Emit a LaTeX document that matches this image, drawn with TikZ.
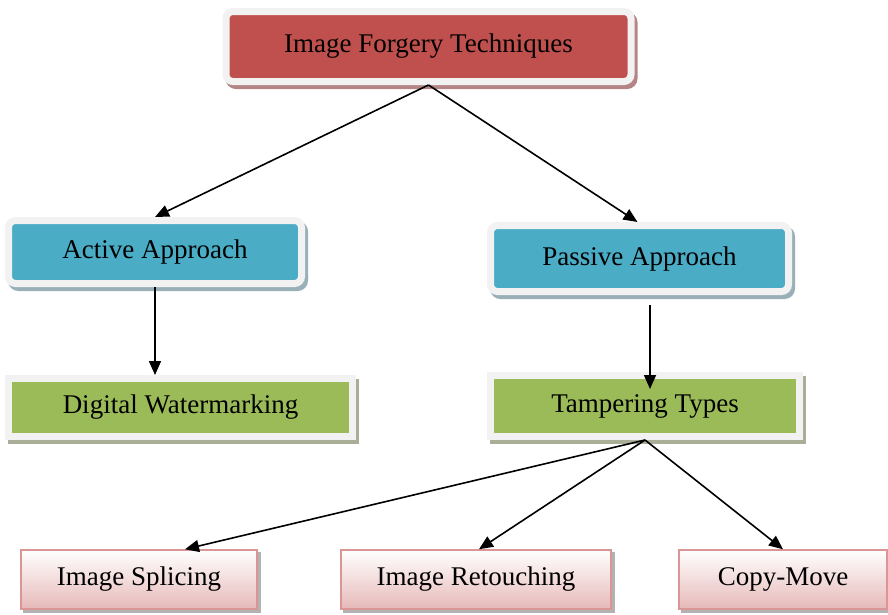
\documentclass[tikz,border=0pt]{standalone}
\usepackage{fontspec}
\setmainfont{Liberation Serif}
\usetikzlibrary{arrows.meta, positioning}
\definecolor{TopRed}{HTML}{C0504D}
\definecolor{RedShade}{HTML}{B58585}
\definecolor{SkyBlue}{HTML}{4BACC6}
\definecolor{BlueShade}{HTML}{9AB0B8}
\definecolor{LeafGreen}{HTML}{9BBB59}
\definecolor{GreenShade}{HTML}{A8AE98}
\definecolor{PinkFill}{HTML}{E6B9B8}
\definecolor{PinkLine}{HTML}{D99694}
\definecolor{FrameGray}{HTML}{F2F2F2}

\begin{document}
\begin{tikzpicture}[
  x=1pt, y=-1pt,
  framebox/.style={draw=FrameGray, line width=7pt, inner sep=0pt, align=center,
    font=\fontsize{27}{31}\selectfont,
    preaction={draw=#1, fill=#1, line width=7pt, transform canvas={xshift=3pt, yshift=-4pt}}},
  roundbox/.style={framebox=#1, rounded corners=7pt},
  leafbox/.style={draw=PinkLine, line width=1.5pt, inner sep=0pt, align=center,
    top color=white, bottom color=PinkFill, minimum height=59pt,
    font=\fontsize{27}{31}\selectfont,
    preaction={draw=gray!60, fill=gray!60, line width=1.5pt, transform canvas={xshift=3pt, yshift=-3pt}}},
  arr/.style={-{Triangle[length=14pt, width=12pt]}, line width=1.6pt, black},
]
\useasboundingbox (0,0) rectangle (888,614);

% upper levels
\node[roundbox=RedShade, fill=TopRed, minimum width=405pt, minimum height=70pt] (forgery) at (428.5,46.5) {Image Forgery Techniques};
\node[roundbox=BlueShade, fill=SkyBlue, minimum width=293pt, minimum height=63pt] (active) at (155,252) {Active Approach};
\node[roundbox=BlueShade, fill=SkyBlue, minimum width=298pt, minimum height=66pt] (passive) at (639.5,258.5) {Passive Approach};
\node[framebox=GreenShade, fill=LeafGreen, minimum width=344pt, minimum height=58pt] (watermark) at (180.5,407.5) {Digital Watermarking};
\node[framebox=GreenShade, fill=LeafGreen, minimum width=309pt, minimum height=61pt] (tamper) at (645,406) {Tampering Types};

% tampering types
\node[leafbox, minimum width=236pt] (splicing) at (139,579.5) {Image Splicing};
\node[leafbox, minimum width=270pt] (retouch) at (476,579.5) {Image Retouching};
\node[leafbox, minimum width=208pt] (copymove) at (783,579.5) {Copy-Move};

\draw[arr] (forgery.south) -- (active.north);
\draw[arr] (forgery.south) -- ([xshift=-2pt]passive.north);
\draw[arr] (active.south) -- (active.south |- watermark.north);
\draw[arr] ([xshift=5pt, yshift=-10pt]passive.south -| tamper.north) -- ([xshift=5pt, yshift=-17pt]tamper.north);
\draw[arr] (tamper.south) -- ([xshift=46pt]splicing.north);
\draw[arr] (tamper.south) -- ([xshift=3pt]retouch.north);
\draw[arr] (tamper.south) -- (copymove.north);
\end{tikzpicture}
\end{document}
